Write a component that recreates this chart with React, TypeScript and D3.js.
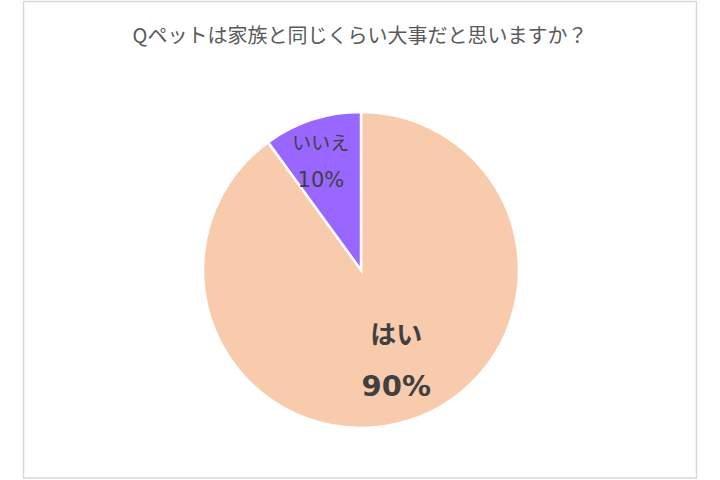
import React from 'react';
import * as d3 from 'd3';

// Chart data
const categories = ['はい', 'いいえ'];
const values = [90, 10];
const sliceColors = ['#F8CBAD', '#9966FF'];
const title = 'Qペットは家族と同じくらい大事だと思いますか？';

const WIDTH = 720;
const HEIGHT = 480;
const FONT = '"Noto Sans CJK JP", "Noto Sans", sans-serif';
const NUM_FONT = '"DejaVu Sans", "Noto Sans", sans-serif';

export default function App() {
  const cx = 361;
  const cy = 270;
  const radius = 158;

  const pie = d3.pie<number>().value((d) => d).sort(null);
  const arcs = pie(values);

  const arc = d3.arc<d3.PieArcDatum<number>>().innerRadius(0).outerRadius(radius);

  // label radius differs per slice, like Excel's best-fit placement
  const labelRadius = [0.6, 0.72];
  const labelStyle = [
    { nameSize: 26, numSize: 29, weight: 700, gap: 51, dx: 6 },
    { nameSize: 19, numSize: 21, weight: 400, gap: 36, dx: -5 },
  ];

  return (
    <div style={{ position: 'absolute', left: 0, top: 0 }}>
      <svg width={WIDTH} height={HEIGHT} style={{ display: 'block', background: '#fff' }}>
        <rect x={23.5} y={1.5} width={673} height={476.5} fill="#fff" stroke="#D9D9D9" strokeWidth={1.5} />
        <text
          x={360}
          y={43}
          textAnchor="middle"
          fontFamily={FONT}
          fontSize={20}
          fill="#595959"
        >
          {title}
        </text>
        <g transform={`translate(${cx},${cy})`}>
          {arcs.map((a, i) => (
            <path key={categories[i]} d={arc(a) || ''} fill={sliceColors[i]} stroke="#fff" strokeWidth={2.5} />
          ))}
          {arcs.map((a, i) => {
            const r = radius * labelRadius[i];
            const la = d3.arc<d3.PieArcDatum<number>>().innerRadius(r).outerRadius(r);
            const [lx, ly] = la.centroid(a);
            const st = labelStyle[i];
            return (
              <g key={`l-${categories[i]}`} fill="#404040" textAnchor="middle" fontWeight={st.weight}>
                <text x={lx + st.dx} y={ly - st.gap / 2} dy="0.35em" fontSize={st.nameSize} fontFamily={FONT}>
                  {categories[i]}
                </text>
                <text x={lx + st.dx} y={ly + st.gap / 2} dy="0.36em" fontSize={st.numSize} fontFamily={NUM_FONT}>
                  {`${values[i]}%`}
                </text>
              </g>
            );
          })}
        </g>
      </svg>
    </div>
  );
}
